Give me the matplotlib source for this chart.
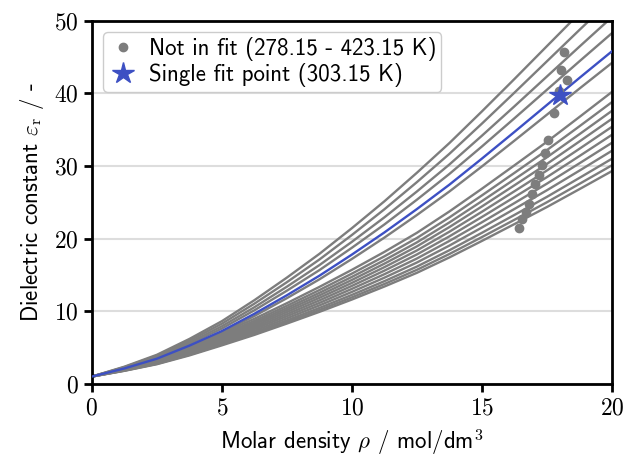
# coding=utf-8
"""
Constante dielectrica vs densidad molar
"""

import matplotlib
matplotlib.use('Agg')
import matplotlib.pyplot as plt

# Datos
rho_grid = [0.0, 1.25, 2.5, 3.75, 5.0, 6.25, 7.5, 8.75, 10.0,
            11.25, 12.5, 13.75, 15.0, 16.25, 17.5, 18.75, 20.0]

# Curvas grises (de arriba hacia abajo)
curves_gray = [
    [1, 2.36, 4.00, 6.18, 8.63, 11.52, 14.63, 17.90, 21.44,
     25.14, 29.07, 33.16, 37.52, 41.98, 46.51, 51.03, 55.5],
    [1, 2.30, 3.86, 5.94, 8.28, 11.04, 14.00, 17.12, 20.50,
     24.04, 27.78, 31.68, 35.84, 40.10, 44.42, 48.74, 53.0],
    [1, 2.24, 3.72, 5.70, 7.93, 10.55, 13.38, 16.35, 19.56,
     22.93, 26.49, 30.21, 34.17, 38.22, 42.33, 46.44, 50.5],
    [1, 2.18, 3.60, 5.49, 7.62, 10.13, 12.83, 15.66, 18.74,
     21.95, 25.36, 28.91, 32.69, 36.57, 40.50, 44.42, 48.3],
    [1, 2.08, 3.38, 5.10, 7.05, 9.34, 11.80, 14.39, 17.20,
     20.14, 23.25, 26.49, 29.94, 33.49, 37.07, 40.66, 44.2],
    [1, 2.10, 3.35, 5.04, 6.96, 8.96, 11.11, 13.35, 15.70,
     18.17, 20.80, 23.74, 26.87, 30.09, 33.34, 36.75, 40.2],
    [1, 2.06, 3.27, 4.89, 6.75, 8.67, 10.75, 12.91, 15.18,
     17.56, 20.09, 22.92, 25.95, 29.05, 32.19, 35.47, 38.8],
    [1, 2.02, 3.20, 4.77, 6.56, 8.43, 10.44, 12.53, 14.73,
     17.03, 19.48, 22.23, 25.16, 28.16, 31.20, 34.38, 37.6],
    [1, 1.99, 3.13, 4.66, 6.40, 8.21, 10.16, 12.18, 14.31,
     16.55, 18.93, 21.59, 24.43, 27.34, 30.29, 33.38, 36.5],
    [1, 1.96, 3.06, 4.54, 6.23, 7.98, 9.88, 11.84, 13.90,
     16.07, 18.37, 20.95, 23.70, 26.52, 29.38, 32.37, 35.4],
    [1, 1.93, 3.00, 4.43, 6.06, 7.76, 9.59, 11.49, 13.49,
     15.59, 17.82, 20.31, 22.98, 25.71, 28.47, 31.37, 34.3],
    [1, 1.90, 2.93, 4.32, 5.89, 7.54, 9.31, 11.14, 13.08,
     15.10, 17.26, 19.68, 22.25, 24.89, 27.57, 30.37, 33.2],
    [1, 1.87, 2.87, 4.20, 5.73, 7.31, 9.02, 10.80, 12.66,
     14.62, 16.71, 19.04, 21.53, 24.08, 26.66, 29.36, 32.1],
    [1, 1.84, 2.80, 4.09, 5.56, 7.09, 8.74, 10.45, 12.25,
     14.14, 16.15, 18.40, 20.80, 23.26, 25.75, 28.36, 31.0],
    [1, 1.81, 2.75, 4.00, 5.42, 6.91, 8.51, 10.17, 11.91,
     13.75, 15.70, 17.88, 20.21, 22.59, 25.01, 27.54, 30.1],
    [1, 1.79, 2.70, 3.91, 5.30, 6.74, 8.30, 9.91, 11.61,
     13.40, 15.29, 17.41, 19.68, 22.00, 24.35, 26.81, 29.3],
]

# Curva ajustada (303.15 K)
curve_fit = [1, 2.12, 3.46, 5.26, 7.27, 9.65, 12.20, 14.89, 17.80,
             20.85, 24.07, 27.43, 31.02, 34.69, 38.41, 42.13, 45.8]

# Puntos experimentales (no usados en el ajuste)
rho_exp = [18.17, 18.04, 18.26, 17.95, 17.77, 17.55, 17.42, 17.31, 17.19,
           17.06, 16.94, 16.82, 16.69, 16.56, 16.43]
eps_exp = [45.7, 43.2, 41.8, 40.3, 37.3, 33.6, 31.8, 30.2, 28.8,
           27.5, 26.1, 24.8, 23.6, 22.7, 21.5]

# Punto de ajuste
rho_fit = [18.0]
eps_fit = [39.8]

xticks = [0, 5, 10, 15, 20]
yticks = [0, 10, 20, 30, 40, 50]

GRAY = '#7d7d7d'
BLUE = '#3d50c3'

plt.rcParams['mathtext.fontset'] = 'cm'
plt.rcParams['font.family'] = ['cmss10', 'DejaVu Sans']

fig = plt.figure(figsize=(6.25, 4.63), dpi=100)
ax = fig.add_axes([0.147, 0.171, 0.832, 0.784])

for c in curves_gray:
    ax.plot(rho_grid, c, color=GRAY, linewidth=1.7, zorder=2)
ax.plot(rho_grid, curve_fit, color=BLUE, linewidth=1.7, zorder=3)

ax.plot(rho_exp, eps_exp, 'o', color=GRAY, markersize=6, zorder=4,
        label='Not in fit (278.15 - 423.15 K)')
ax.plot(rho_fit, eps_fit, '*', color=BLUE, markersize=16, zorder=5,
        label='Single fit point (303.15 K)')

ax.set_xlim(0, 20)
ax.set_ylim(0, 50)
ax.set_xticks(xticks)
ax.set_xticklabels(['$%d$' % v for v in xticks])
ax.set_yticks(yticks)
ax.set_yticklabels(['$%d$' % v for v in yticks])
ax.tick_params(labelsize=17, width=2, length=6, direction='out')
ax.yaxis.grid(True, color='#dddddd', linewidth=1.5, zorder=0)
ax.set_axisbelow(True)
for s in ax.spines.values():
    s.set_linewidth(2)

ax.set_xlabel(r'Molar density $\rho$ / mol/dm$^3$', fontsize=16.5, labelpad=6)
ax.set_ylabel(r'Dielectric constant $\varepsilon_\mathrm{r}$ / -',
              fontsize=16.5, labelpad=6)

ax.legend(loc='upper left', fontsize=16.5, handletextpad=0.5,
          borderaxespad=0.5, framealpha=1, edgecolor='#cccccc',
          handlelength=1.3, borderpad=0.2, labelspacing=0.1)

fig.savefig('out.png', dpi=100)
